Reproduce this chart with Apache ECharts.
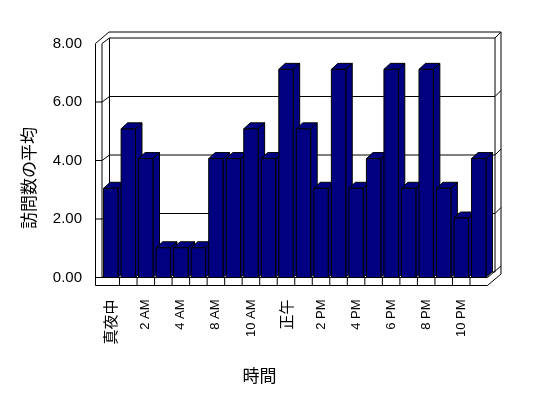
<!DOCTYPE html>
<html>
<head>
<meta charset="utf-8">
<script src="https://cdn.jsdelivr.net/npm/echarts@6/dist/echarts.min.js"></script>
<style>
  html, body { margin: 0; padding: 0; background: #fff; }
  #chart { width: 548px; height: 398px; }
</style>
</head>
<body>
<div id="chart"></div>
<script>
// 時間ごとの訪問数の平均
const hours = ['真夜中', '1 AM', '2 AM', '3 AM', '4 AM', '6 AM', '8 AM', '9 AM', '10 AM', '11 AM', '正午',
               '1 PM', '2 PM', '3 PM', '4 PM', '5 PM', '6 PM', '7 PM', '8 PM', '9 PM', '10 PM', '11 PM']
const avgVisits = [3, 5, 4, 1, 1, 1, 4, 4, 5, 4, 7, 5, 3, 7, 3, 4, 7, 3, 7, 3, 2, 4]
const valueTicks = [0, 2, 4, 6, 8]

const navy = '#000080'
const line = { stroke: '#000', lineWidth: 1, fill: null }

// 壁と床 (3D風の枠)
function renderFrame(params, api) {
  const cs = params.coordSys
  const L = cs.x, T = cs.y, R = cs.x + cs.width, B = cs.y + cs.height
  const dx = 7.5, dy = -5.5   // 奥行き
  const ex = 6, ey = -6       // 奥の壁の厚み
  const wt = 6.5, ft = 8      // 左の壁と床の厚み
  const band = api.size([1, 0])[0]
  const children = []

  children.push({
    type: 'polygon',
    shape: { points: [[L - wt, B + ft], [L - wt, T], [L - wt + dx + ex, T + dy + ey],
                      [R + dx + ex, T + dy + ey], [R + dx + ex, B + ft + dy + ey], [R, B + ft]] },
    style: { fill: '#fff', stroke: '#000', lineWidth: 1 }
  })
  children.push({
    type: 'rect',
    shape: { x: L + dx, y: T + dy, width: R - L, height: B - T },
    style: { fill: '#fff', stroke: '#000', lineWidth: 1 }
  })
  const segs = [
    [[L, T], [L, B]],
    [[L - wt, B], [R, B]],
    [[L, T], [L + dx, T + dy]],
    [[L, B], [L + dx, B + dy]],
    [[R + dx, T + dy], [R + dx + ex, T + dy + ey]],
    [[R, B], [R + dx + ex, B + dy + ey]]
  ]
  for (let k = 1; k < hours.length; k++) {
    segs.push([[L + k * band, B], [L + k * band, B + ft]])
  }
  segs.forEach(p => children.push({ type: 'polyline', shape: { points: p }, style: line }))

  // 目盛線 (左の壁と奥の壁)
  valueTicks.slice(1, -1).forEach(v => {
    const y = api.coord([0, v])[1]
    children.push({
      type: 'polyline',
      shape: { points: [[L - wt, y], [L, y], [L + dx, y + dy], [R + dx, y + dy], [R + dx + ex, y + dy + ey]] },
      style: line
    })
  })
  return { type: 'group', children: children }
}

// 3D風の棒
function renderBar(params, api) {
  const top = api.coord([api.value(0), api.value(1)])
  const base = api.coord([api.value(0), 0])
  const w = api.size([1, 0])[0] * 0.82
  const x0 = top[0] - w / 2, x1 = top[0] + w / 2
  const bx = 6.5, by = -6
  const st = { fill: navy, stroke: '#000', lineWidth: 1 }
  return {
    type: 'group',
    children: [
      { type: 'polygon', shape: { points: [[x1, top[1]], [x1 + bx, top[1] + by], [x1 + bx, base[1] + by], [x1, base[1]]] }, style: st },
      { type: 'polygon', shape: { points: [[x0, top[1]], [x0 + bx, top[1] + by], [x1 + bx, top[1] + by], [x1, top[1]]] }, style: st },
      { type: 'rect', shape: { x: x0, y: top[1], width: w, height: base[1] - top[1] }, style: st }
    ]
  }
}

const chart = echarts.init(document.getElementById('chart'))
chart.setOption({
  animation: false,
  backgroundColor: '#fff',
  grid: { left: 102, top: 43.5, width: 385.5, height: 234 },
  xAxis: {
    type: 'category',
    data: hours,
    axisLine: { show: false },
    axisTick: { show: false },
    axisLabel: {
      interval: 1, rotate: 90, margin: 22, color: '#000', fontSize: 13,
      fontFamily: 'Liberation Sans, Noto Sans CJK JP',
      formatter: v => /[^\x00-\x7f]/.test(v) ? '{cjk|' + v + '}' : v,
      rich: { cjk: { fontSize: 15, fontFamily: 'Noto Sans CJK JP', color: '#000' } }
    }
  },
  yAxis: [
    {
      type: 'value', min: 0, max: 8, interval: 2,
      axisLine: { show: false },
      axisTick: { show: false },
      splitLine: { show: false },
      axisLabel: {
        margin: 20, color: '#000', fontSize: 15, fontFamily: 'Liberation Sans',
        formatter: v => v.toFixed(2)
      }
    },
    { type: 'value', min: 0, max: 7.87, show: false }
  ],
  graphic: [
    {
      type: 'text', x: 29, y: 178, rotation: Math.PI / 2,
      style: { text: '訪問数の平均', fill: '#000', font: '17px "Noto Sans CJK JP"',
               textAlign: 'center', textVerticalAlign: 'middle', align: 'center', verticalAlign: 'middle' }
    },
    {
      type: 'text', x: 259.5, y: 376,
      style: { text: '時間', fill: '#000', font: '17px "Noto Sans CJK JP"',
               textAlign: 'center', textVerticalAlign: 'middle', align: 'center', verticalAlign: 'middle' }
    }
  ],
  series: [
    {
      type: 'custom', silent: true, z: 1, yAxisIndex: 0,
      renderItem: renderFrame,
      data: [[0, 0]]
    },
    {
      type: 'custom', silent: true, z: 2, yAxisIndex: 1,
      renderItem: renderBar,
      data: avgVisits.map((v, i) => [i, v])
    }
  ]
})
</script>
</body>
</html>
